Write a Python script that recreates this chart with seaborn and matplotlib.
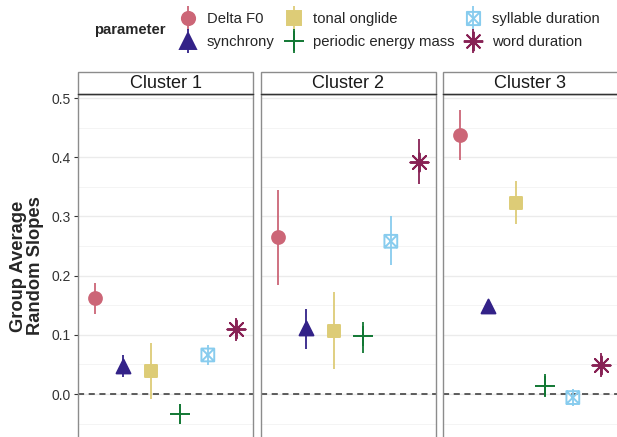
import matplotlib
matplotlib.use('Agg')
import matplotlib.pyplot as plt
from matplotlib.lines import Line2D
from matplotlib.markers import MarkerStyle
from matplotlib.patches import Rectangle
from matplotlib.path import Path
import pandas as pd
import seaborn as sns

# values (mean with lower/upper bound)
parameters = ['Delta F0', 'synchrony', 'tonal onglide',
              'periodic energy mass', 'syllable duration', 'word duration']
clusters = ['Cluster 1', 'Cluster 2', 'Cluster 3']

c1_mean = [0.162, 0.048, 0.039, -0.034, 0.066, 0.109]
c1_low = [0.135, 0.028, -0.009, -0.036, 0.049, 0.090]
c1_high = [0.187, 0.066, 0.086, -0.032, 0.082, 0.128]

c2_mean = [0.265, 0.111, 0.107, 0.098, 0.258, 0.392]
c2_low = [0.184, 0.076, 0.042, 0.070, 0.218, 0.354]
c2_high = [0.345, 0.144, 0.173, 0.122, 0.301, 0.431]

c3_mean = [0.438, 0.149, 0.322, 0.014, -0.006, 0.049]
c3_low = [0.396, 0.147, 0.287, -0.005, -0.021, 0.028]
c3_high = [0.480, 0.151, 0.359, 0.033, 0.008, 0.070]

palette = ['#CC6677', '#332288', '#DDCC77', '#117733', '#88CCEE', '#882255']

rows = []
for cl, m, lo, hi in zip(clusters, [c1_mean, c2_mean, c3_mean],
                         [c1_low, c2_low, c3_low], [c1_high, c2_high, c3_high]):
    for p, a, b, c in zip(parameters, m, lo, hi):
        rows.append({'cluster': cl, 'parameter': p, 'mean': a, 'low': b, 'high': c})
df = pd.DataFrame(rows)
df['parameter'] = pd.Categorical(df['parameter'], categories=parameters)
df['pos'] = df['parameter'].cat.codes

# square with a cross inside (ggplot shape 7)
sq_cross = Path([(-1, -1), (1, -1), (1, 1), (-1, 1), (-1, -1),
                 (-1, -1), (1, 1), (-1, 1), (1, -1)],
                [Path.MOVETO, Path.LINETO, Path.LINETO, Path.LINETO, Path.CLOSEPOLY,
                 Path.MOVETO, Path.LINETO, Path.MOVETO, Path.LINETO])
markers = ['o', '^', 's', '+', MarkerStyle(sq_cross, fillstyle='none'),
           MarkerStyle((8, 2, 0))]
sizes = [85, 100, 85, 200, 85, 170]

sns.set_style('white')
plt.rcParams['font.family'] = ['Liberation Sans', 'DejaVu Sans']

fig = plt.figure(figsize=(6.17, 4.37), dpi=100)
W, H = 617, 437
lefts = [78, 261, 443]
pw = 175
top_px, bot_px = 94, 440
axes = []
for i, cl in enumerate(clusters):
    ax = fig.add_axes([lefts[i] / W, 1 - bot_px / H, pw / W, (bot_px - top_px) / H],
                      sharey=axes[0] if axes else None)
    axes.append(ax)
    sub = df[df['cluster'] == cl]
    ax.axhline(0, color='#333333', lw=1.1, ls=(0, (4, 3)), zorder=2)
    for j, p in enumerate(parameters):
        s = sub[sub['parameter'] == p]
        ax.vlines(s['pos'], s['low'], s['high'], color=palette[j], lw=1.3, zorder=3)
        sns.scatterplot(data=s, x='pos', y='mean', ax=ax, marker=markers[j],
                        color=palette[j], s=sizes[j], linewidth=1.4,
                        edgecolor=palette[j] if j < 3 else None,
                        legend=False, zorder=4)
    ax.set_xlim(-0.6, 5.6)
    ax.set_ylim(-0.0726 - (bot_px - 437) / 592, 0.5068)
    ax.set_yticks([0, 0.1, 0.2, 0.3, 0.4, 0.5])
    ax.set_yticks([-0.05, 0.05, 0.15, 0.25, 0.35, 0.45], minor=True)
    ax.grid(True, axis='y', which='major', color='#EBEBEB', lw=1.0, zorder=0)
    ax.grid(True, axis='y', which='minor', color='#F3F3F3', lw=0.6, zorder=0)
    ax.set_axisbelow(True)
    ax.set_xticks([])
    ax.set_xlabel('')
    ax.set_ylabel('')
    for sp in ax.spines.values():
        sp.set_color('#8C8C8C')
        sp.set_linewidth(1.0)
    if i == 0:
        ax.tick_params(axis='y', which='major', length=3, width=0.8, color='#333333',
                       labelsize=10, labelcolor='#333333', pad=2, left=True)
        ax.tick_params(axis='y', which='minor', length=0)
        ax.set_yticklabels(['0.0', '0.1', '0.2', '0.3', '0.4', '0.5'])
    else:
        ax.tick_params(axis='y', which='both', left=False, labelleft=False)
    # facet strip
    sh = 22 / (bot_px - top_px)
    ax.add_patch(Rectangle((0, 1), 1, sh, transform=ax.transAxes, facecolor='white',
                           edgecolor='#8C8C8C', lw=1.0, clip_on=False, zorder=5))
    ax.plot([0, 1], [1, 1], transform=ax.transAxes, color='#333333', lw=1.0,
            clip_on=False, zorder=6)
    ax.text(0.5, 1 + sh / 2, cl, transform=ax.transAxes, ha='center', va='center',
            fontsize=13, color='#1A1A1A', zorder=7)

fig.text(27 / W, 1 - 266 / H, 'Group Average\nRandom Slopes', rotation=90,
         ha='center', va='center', fontsize=13.2, fontweight='bold',
         linespacing=1.0, multialignment='center')

# legend: pointrange keys (vertical line through the marker)
handles = []
for j, p in enumerate(parameters):
    bar = Line2D([], [], marker='|', ms=17, mew=1.3, color=palette[j], lw=0)
    mk = markers[j]
    ms = {0: 9.5, 1: 11, 2: 9.5, 3: 14, 4: 9.5, 5: 14}[j]
    pt = Line2D([], [], marker=mk, ms=ms, mew=1.4, color=palette[j], lw=0,
                fillstyle='none' if j == 4 else 'full')
    handles.append((bar, pt))
fig.legend(handles, parameters, loc='upper left', bbox_to_anchor=(180 / W, 1 - 12 / H),
           ncol=3, frameon=False, fontsize=10.7, handlelength=1.1, handletextpad=0.7,
           columnspacing=0.75, labelspacing=0.62, borderpad=0, borderaxespad=0)
fig.text(94 / W, 1 - 30 / H, 'parameter', ha='left', va='center', fontsize=10.7,
         fontweight='bold')

fig.savefig('out.png', dpi=100)
